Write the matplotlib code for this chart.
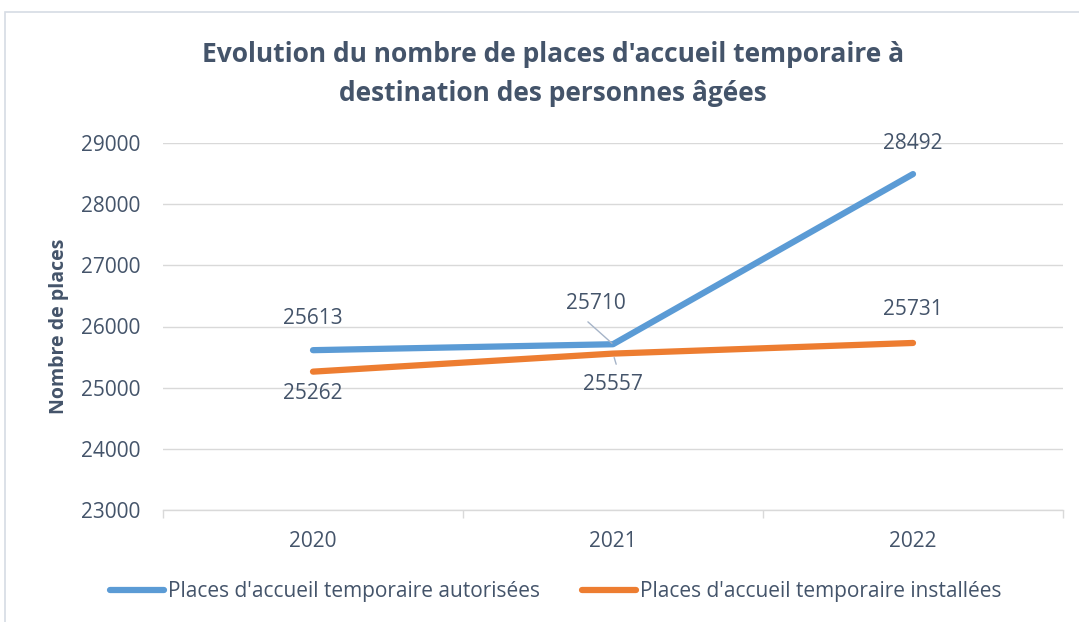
import matplotlib
matplotlib.use("Agg")
import matplotlib.pyplot as plt
from matplotlib.patches import Rectangle

years = ["2020", "2021", "2022"]
autorisees = [25613, 25710, 28492]
installees = [25262, 25557, 25731]
series_names = ["Places d'accueil temporaire autorisées",
                "Places d'accueil temporaire installées"]
title = "Evolution du nombre de places d'accueil temporaire à\ndestination des personnes âgées"
ylabel = "Nombre de places"
yticks = [23000, 24000, 25000, 26000, 27000, 28000, 29000]

plt.rcParams['font.family'] = ['Open Sans', 'DejaVu Sans']
TXT = '#44546A'
BLUE = '#5B9BD5'
ORANGE = '#ED7D31'
GRID = '#D9D9D9'
FS = 15

fig = plt.figure(figsize=(10.79, 6.22), dpi=100)
ax = fig.add_axes([163/1079, 1-510/622, 900/1079, 367/622])

# outer chart border
fig.patches.append(Rectangle((5/1079, -0.1), 1.2, 1-12/622+0.1, transform=fig.transFigure,
                             fill=False, edgecolor='#D6DCE4', linewidth=1.2))

x = list(range(len(years)))
ax.plot(x, autorisees, color=BLUE, linewidth=4.5, solid_capstyle='round', zorder=3)
ax.plot(x, installees, color=ORANGE, linewidth=4.5, solid_capstyle='round', zorder=3)

ax.set_xlim(-0.5, 2.5)
ax.set_ylim(23000, 29000)
ax.set_yticks(yticks)
ax.set_yticklabels([str(v) for v in yticks])
ax.set_xticks(x)
ax.set_xticklabels(years)
ax.set_xticks([-0.5, 0.5, 1.5, 2.5], minor=True)
ax.tick_params(axis='x', which='major', length=0, pad=15, labelsize=FS, labelcolor=TXT)
ax.tick_params(axis='x', which='minor', length=6, color=GRID, width=1)
ax.tick_params(axis='y', length=0, pad=16, labelsize=FS, labelcolor=TXT)
ax.grid(axis='y', color=GRID, linewidth=1, zorder=0)
for s in ['top', 'right', 'left']:
    ax.spines[s].set_visible(False)
ax.spines['bottom'].set_color(GRID)
ax.spines['bottom'].set_linewidth(1)

ax.set_ylabel(ylabel, fontsize=14, fontweight='bold', color=TXT, labelpad=9)
fig.text(553/1079, 1-74/622, title, ha='center', va='center', fontsize=19,
         fontweight='bold', color=TXT, linespacing=1.55)

# data labels (offsets in points)
lab_a = [(0, 23), (-12, 29), (0, 22)]
lab_i = [(0, -16), (0, -22), (0, 24)]
lead = '#A6B4C8'
for i, v in enumerate(autorisees):
    dx, dy = lab_a[i]
    if i == 1:
        ax.annotate(str(v), (i, v), xytext=(dx, dy), textcoords='offset points',
                    ha='center', va='center', fontsize=FS, color=TXT,
                    arrowprops=dict(arrowstyle='-', color=lead, lw=1, relpos=(0.22, 0),
                                    shrinkA=5, shrinkB=1))
    else:
        ax.annotate(str(v), (i, v), xytext=(dx, dy), textcoords='offset points',
                    ha='center', va='center', fontsize=FS, color=TXT)
for i, v in enumerate(installees):
    dx, dy = lab_i[i]
    if i == 1:
        ax.annotate(str(v), (i, v), xytext=(dx, dy), textcoords='offset points',
                    ha='center', va='center', fontsize=FS, color=TXT,
                    arrowprops=dict(arrowstyle='-', color=lead, lw=1, relpos=(0.6, 1),
                                    shrinkA=5, shrinkB=3))
    else:
        ax.annotate(str(v), (i, v), xytext=(dx, dy), textcoords='offset points',
                    ha='center', va='center', fontsize=FS, color=TXT)

handles = ax.get_lines()
leg = fig.legend(handles, series_names, loc='center', bbox_to_anchor=(556/1079, 1-592/622),
                 ncol=2, frameon=False, fontsize=FS, handlelength=2.6, handletextpad=0.2,
                 columnspacing=2.0, labelcolor=TXT)

fig.savefig('out.png', dpi=100)
